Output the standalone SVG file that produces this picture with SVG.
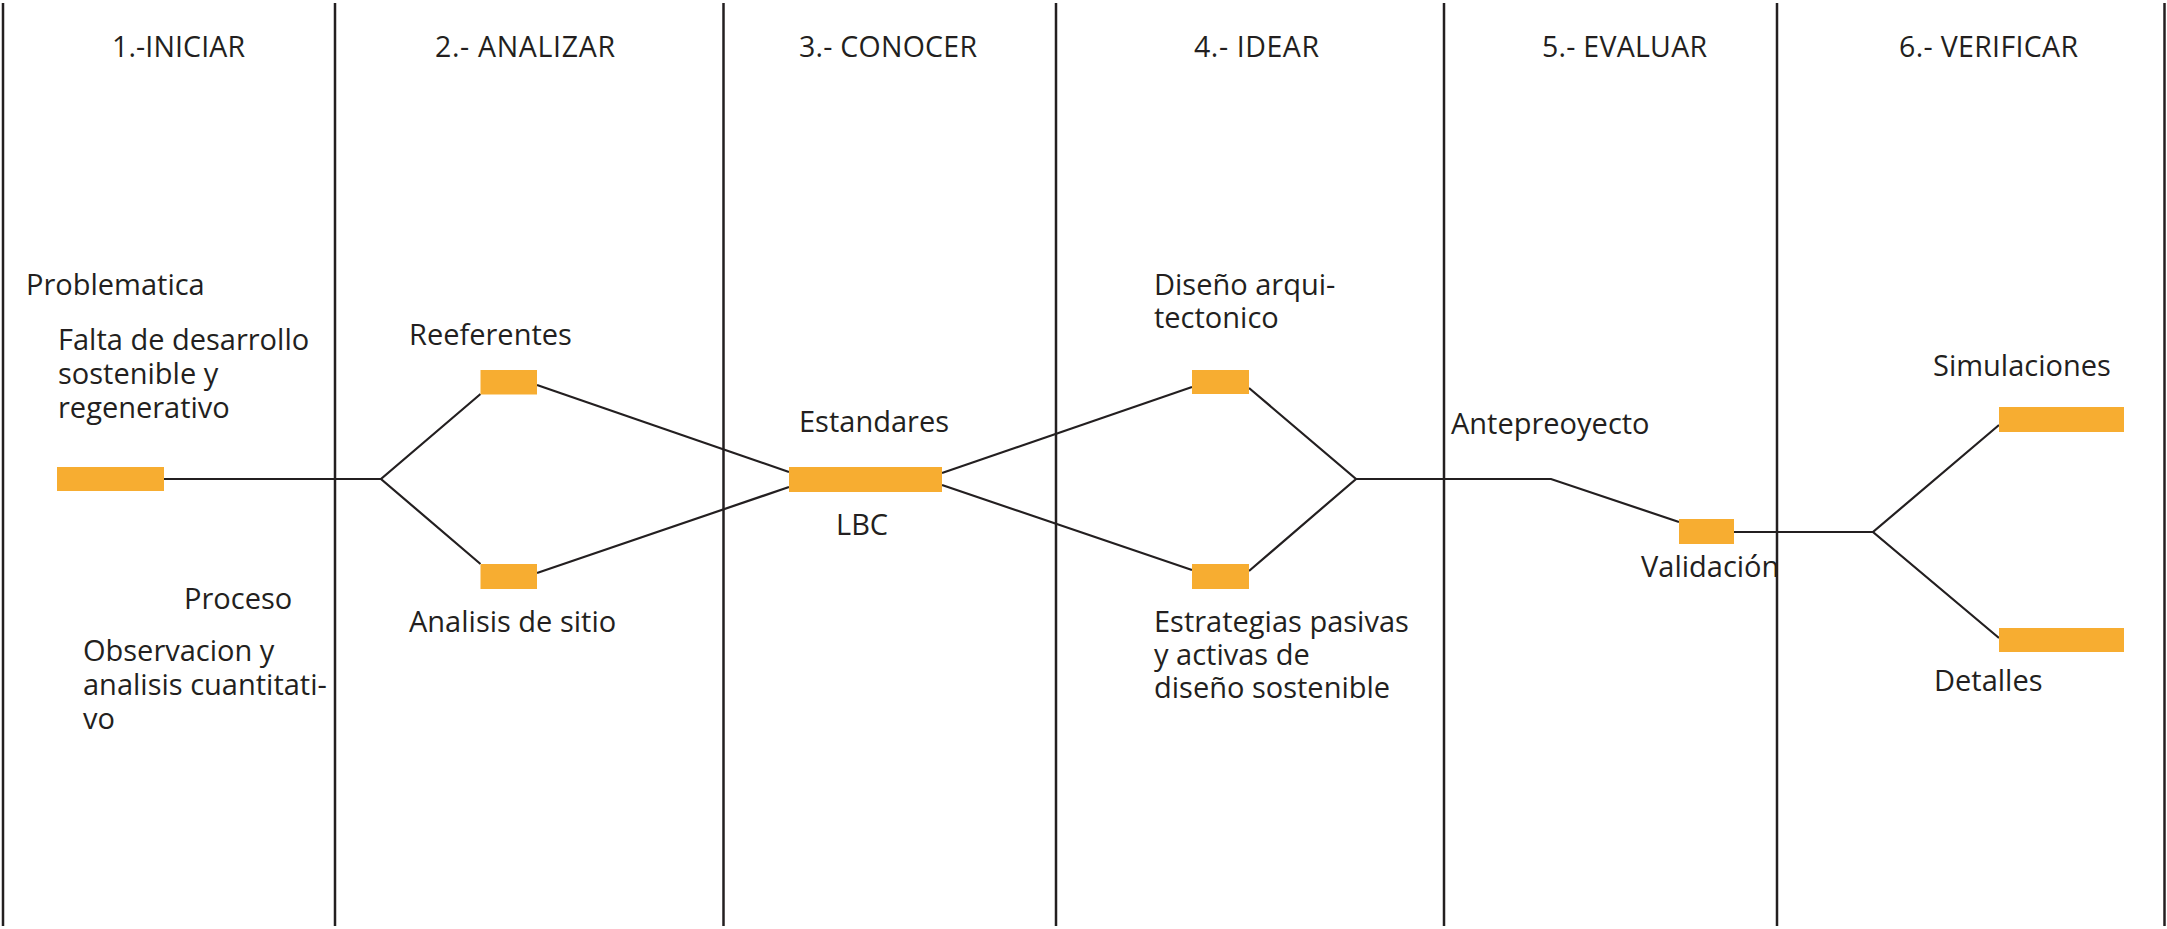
<svg xmlns="http://www.w3.org/2000/svg" width="2167" height="929" viewBox="0 0 2167 929">
  <style>
    .bg { fill: #ffffff; }
    .divider { stroke: #231f20; stroke-width: 2.5; fill: none; }
    .link { stroke: #231f20; stroke-width: 2.2; fill: none; stroke-linejoin: miter; }
    .box { fill: #f7ad31; }
    text { font-family: "Open Sans", "Noto Sans", "Liberation Sans", sans-serif; font-size: 29px; fill: #231f20; }
    .head { font-size: 28.5px; }
  </style>

  <rect class="bg" x="0" y="0" width="2167" height="929"/>

  <!-- column dividers -->
  <g id="dividers">
    <line class="divider" x1="3" y1="3" x2="3" y2="926"/>
    <line class="divider" x1="335" y1="3" x2="335" y2="926"/>
    <line class="divider" x1="723.5" y1="3" x2="723.5" y2="926"/>
    <line class="divider" x1="1056" y1="3" x2="1056" y2="926"/>
    <line class="divider" x1="1444" y1="3" x2="1444" y2="926"/>
    <line class="divider" x1="1777" y1="3" x2="1777" y2="926"/>
    <line class="divider" x1="2164.5" y1="3" x2="2164.5" y2="926"/>
  </g>

  <!-- phase headings -->
  <g id="headings">
    <text class="head" x="112" y="57" textLength="133">1.-INICIAR</text>
    <text class="head" x="435" y="57" textLength="180">2.- ANALIZAR</text>
    <text class="head" x="799" y="57" textLength="178">3.- CONOCER</text>
    <text class="head" x="1194" y="57" textLength="125">4.- IDEAR</text>
    <text class="head" x="1542" y="57" textLength="165">5.- EVALUAR</text>
    <text class="head" x="1899" y="57" textLength="179">6.- VERIFICAR</text>
  </g>

  <!-- connectors -->
  <g id="connectors">
    <polyline class="link" points="164,479 381,479"/>
    <polyline class="link" points="480.5,394 381,479 480.5,564"/>
    <line class="link" x1="537" y1="385" x2="789" y2="472"/>
    <line class="link" x1="537" y1="573" x2="789" y2="487"/>
    <line class="link" x1="942" y1="473" x2="1192" y2="387"/>
    <line class="link" x1="942" y1="485" x2="1192" y2="570"/>
    <polyline class="link" points="1249,388 1356,479 1249,571"/>
    <polyline class="link" points="1356,479 1551,479 1679,522"/>
    <line class="link" x1="1734" y1="532" x2="1873" y2="532"/>
    <polyline class="link" points="1999,425 1873,532 1999,638"/>
  </g>

  <g id="node-problematica">
    <text x="26" y="295">Problematica</text>
    <text x="58" y="350">Falta de desarrollo<tspan x="58" dy="34">sostenible y</tspan><tspan x="58" dy="34">regenerativo</tspan></text>
    <rect class="box" x="57" y="467" width="107" height="24"/>
  </g>

  <g id="node-proceso">
    <text x="184" y="609">Proceso</text>
    <text x="83" y="661">Observacion y<tspan x="83" dy="34">analisis cuantitati-</tspan><tspan x="83" dy="34">vo</tspan></text>
  </g>

  <g id="node-reeferentes">
    <text x="409" y="345">Reeferentes</text>
    <rect class="box" x="480.5" y="370" width="56.5" height="24.5"/>
  </g>

  <g id="node-analisis-sitio">
    <rect class="box" x="480.5" y="564" width="56.5" height="25"/>
    <text x="409" y="632">Analisis de sitio</text>
  </g>

  <g id="node-estandares">
    <text x="799" y="432">Estandares</text>
    <rect class="box" x="789" y="467" width="153" height="25"/>
    <text x="836" y="535">LBC</text>
  </g>

  <g id="node-diseno">
    <text x="1154" y="295">Diseño arqui-<tspan x="1154" dy="33">tectonico</tspan></text>
    <rect class="box" x="1192" y="370" width="57" height="24"/>
  </g>

  <g id="node-estrategias">
    <rect class="box" x="1192" y="564" width="57" height="25"/>
    <text x="1154" y="632">Estrategias pasivas<tspan x="1154" dy="33">y activas de</tspan><tspan x="1154" dy="33">diseño sostenible</tspan></text>
  </g>

  <g id="node-antepreoyecto">
    <text x="1451" y="434">Antepreoyecto</text>
  </g>

  <g id="node-validacion">
    <rect class="box" x="1679" y="519" width="55" height="25"/>
    <text x="1641" y="577">Validación</text>
  </g>

  <g id="node-simulaciones">
    <text x="1933" y="376">Simulaciones</text>
    <rect class="box" x="1999" y="407" width="125" height="25"/>
  </g>

  <g id="node-detalles">
    <rect class="box" x="1999" y="628" width="125" height="24"/>
    <text x="1934" y="691">Detalles</text>
  </g>
</svg>
